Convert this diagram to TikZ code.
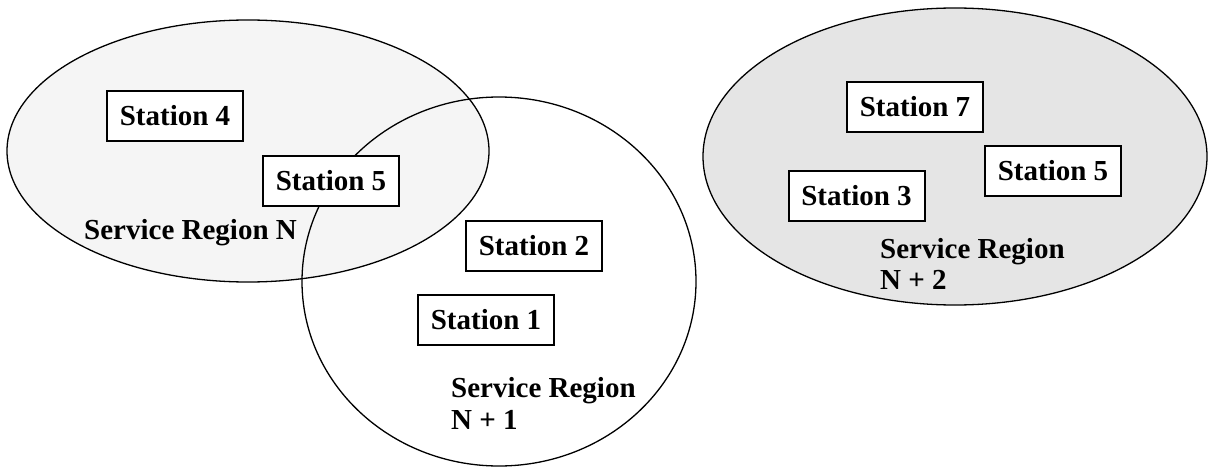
\documentclass[tikz,border=0pt]{standalone}
\usepackage{fontspec}
\setmainfont{Liberation Serif}
\usetikzlibrary{shapes.geometric}

\tikzset{
  region/.style={ellipse, draw=black, line width=1.3pt, inner sep=0pt},
  stationbox/.style={rectangle, draw=black, fill=white, line width=2pt,
    minimum width=136pt, minimum height=50pt, inner sep=0pt,
    font=\fontsize{29}{32}\selectfont\bfseries},
  regionlabel/.style={anchor=base west, inner sep=0pt,
    font=\fontsize{29}{32}\selectfont\bfseries}
}

\begin{document}
\begin{tikzpicture}[x=1pt, y=-1pt]
  \useasboundingbox (0,0) rectangle (1209,468);

  % service areas
  \node[region, fill=black!4, minimum width=482pt, minimum height=262pt] (rN) at (248,151) {};
  \node[region, minimum width=394pt, minimum height=369pt] (rN1) at (499,281.5) {};
  \node[region, fill=black!10, minimum width=504pt, minimum height=297pt] (rN2) at (955,156.5) {};

  % stations
  \node[stationbox] (s4)  at (175,116)    {Station 4};
  \node[stationbox] (s5a) at (331,181)    {Station 5};
  \node[stationbox] (s2)  at (534,246)    {Station 2};
  \node[stationbox] (s1)  at (486,320)    {Station 1};
  \node[stationbox] (s7)  at (915,107)    {Station 7};
  \node[stationbox] (s5b) at (1053,170.5) {Station 5};
  \node[stationbox] (s3)  at (856.5,196)  {Station 3};

  % region names
  \node[regionlabel] (lN)   at (84,239)  {Service Region N};
  \node[regionlabel] (lN1a) at (451,397) {Service Region};
  \node[regionlabel] (lN1b) at (451,429) {N + 1};
  \node[regionlabel] (lN2a) at (880,258) {Service Region};
  \node[regionlabel] (lN2b) at (880,289) {N + 2};
\end{tikzpicture}
\end{document}
